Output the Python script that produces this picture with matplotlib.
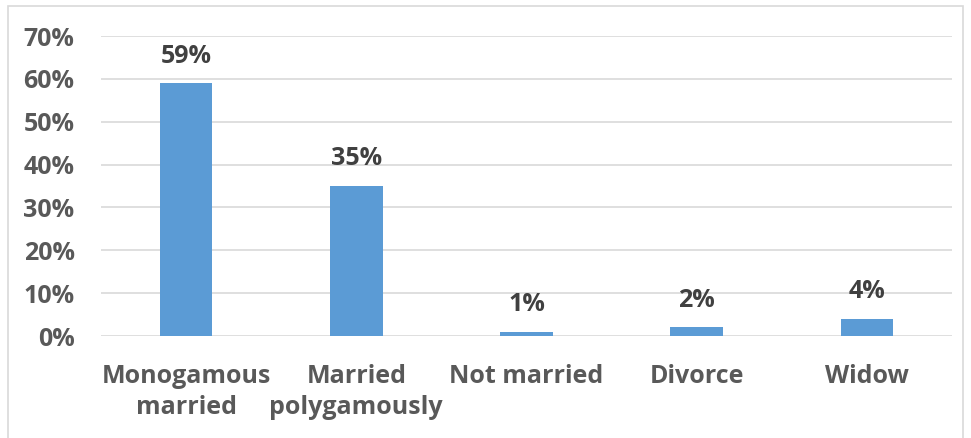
import matplotlib.pyplot as plt
from matplotlib.patches import Rectangle

categories = ['Monogamous\nmarried', 'Married\npolygamously', 'Not married', 'Divorce', 'Widow']
values = [59, 35, 1, 2, 4]
yticks = [0, 10, 20, 30, 40, 50, 60, 70]

plt.rcParams['font.family'] = ['Open Sans', 'DejaVu Sans']

fig = plt.figure(figsize=(9.71, 4.38), dpi=100)
ax = fig.add_axes([101 / 971, 1 - 336 / 438, 851 / 971, 300 / 438])

x = range(len(categories))
ax.bar(x, values, width=0.31, color='#5B9BD5', zorder=3)
for xi, v in zip(x, values):
    ax.text(xi, v + 3.4, f'{v}%', ha='center', va='bottom', fontsize=18,
            fontweight='bold', color='#404040')

ax.set_xlim(-0.5, len(categories) - 0.5)
ax.set_ylim(0, 70)
ax.set_yticks(yticks)
ax.set_yticklabels([f'{t}%' for t in yticks])
ax.set_xticks(list(x))
ax.set_xticklabels(categories, linespacing=1.32)
ax.grid(axis='y', color='#D9D9D9', linewidth=1.2, zorder=0)
for s in ax.spines.values():
    s.set_visible(False)
ax.tick_params(length=0, labelsize=18, labelcolor='#595959')
ax.tick_params(axis='x', pad=20)
ax.tick_params(axis='y', pad=19)
for lab in ax.get_xticklabels() + ax.get_yticklabels():
    lab.set_fontweight('bold')

fig.patches.append(Rectangle((8 / 971, -0.1), 955 / 971, 1 - 6 / 438 + 0.1,
                             transform=fig.transFigure, fill=False,
                             edgecolor='#D9D9D9', linewidth=1.2))

fig.savefig('out.png', dpi=100)
